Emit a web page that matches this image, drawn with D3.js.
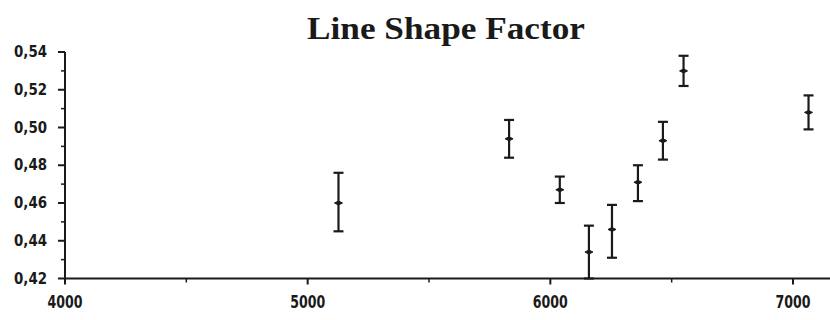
<!DOCTYPE html>
<html>
<head>
<meta charset="utf-8">
<script src="https://cdn.jsdelivr.net/npm/d3@7"></script>
<style>
  html, body { margin: 0; padding: 0; background: #fff; }
  svg { display: block; }
</style>
</head>
<body>
<svg id="chart" width="830" height="320"></svg>
<script>
// Wavelength (Å) of each measurement
const wavelengths = [5127, 5830, 6039, 6159, 6254, 6361, 6464, 6549, 7064];
// Line shape factor: central value and error-bar limits
const factorMid  = [0.460, 0.494, 0.467, 0.434, 0.446, 0.471, 0.493, 0.530, 0.508];
const factorLow  = [0.445, 0.484, 0.460, 0.420, 0.431, 0.461, 0.483, 0.522, 0.499];
const factorHigh = [0.476, 0.504, 0.474, 0.448, 0.459, 0.480, 0.503, 0.538, 0.517];
const xTicks = [4000, 5000, 6000, 7000];
const yTicks = [0.42, 0.44, 0.46, 0.48, 0.50, 0.52, 0.54];
const title = "Line Shape Factor";

const svg = d3.select("#chart");
const ink = "#1a1a1a";

const x = d3.scaleLinear().domain([4000, 7000]).range([65, 793]);
const y = d3.scaleLinear().domain([0.42, 0.54]).range([278.5, 52]);

// Title
svg.append("text")
  .attr("x", 446).attr("y", 39)
  .attr("text-anchor", "middle")
  .attr("font-family", "'Liberation Serif', 'Times New Roman', serif")
  .attr("font-weight", "bold")
  .attr("font-size", 32)
  .attr("textLength", 278)
  .attr("lengthAdjust", "spacingAndGlyphs")
  .attr("fill", ink)
  .text(title);

const fmt = d => d3.format(".2f")(d).replace(".", ",");
const tickFont = "'Liberation Sans Narrow', 'Arial Narrow', 'DejaVu Sans Condensed', sans-serif";

// X axis: line runs to the right edge
svg.append("line")
  .attr("x1", x(4000)).attr("x2", 830)
  .attr("y1", y(0.42)).attr("y2", y(0.42))
  .attr("stroke", ink).attr("stroke-width", 2);

const xMinor = d3.range(4500, 7100, 1000);
svg.append("g").selectAll("line").data(xMinor).join("line")
  .attr("x1", d => x(d)).attr("x2", d => x(d))
  .attr("y1", y(0.42)).attr("y2", y(0.42) + 4)
  .attr("stroke", ink).attr("stroke-width", 1.5);
svg.append("g").selectAll("line").data(xTicks).join("line")
  .attr("x1", d => x(d)).attr("x2", d => x(d))
  .attr("y1", y(0.42)).attr("y2", y(0.42) + 6)
  .attr("stroke", ink).attr("stroke-width", 2);
svg.append("g").selectAll("text").data(xTicks).join("text")
  .attr("x", d => x(d)).attr("y", 308)
  .attr("text-anchor", "middle")
  .attr("font-family", tickFont).attr("font-weight", "bold")
  .attr("font-size", 17).attr("fill", ink)
  .attr("textLength", 35).attr("lengthAdjust", "spacingAndGlyphs")
  .text(d => d);

// Y axis
svg.append("line")
  .attr("x1", x(4000)).attr("x2", x(4000))
  .attr("y1", y(0.54)).attr("y2", y(0.42))
  .attr("stroke", ink).attr("stroke-width", 2);

const yMinor = d3.range(0.43, 0.54, 0.02);
svg.append("g").selectAll("line").data(yMinor).join("line")
  .attr("x1", x(4000) - 4).attr("x2", x(4000))
  .attr("y1", d => y(d)).attr("y2", d => y(d))
  .attr("stroke", ink).attr("stroke-width", 1.5);
svg.append("g").selectAll("line").data(yTicks).join("line")
  .attr("x1", x(4000) - 7).attr("x2", x(4000))
  .attr("y1", d => y(d)).attr("y2", d => y(d))
  .attr("stroke", ink).attr("stroke-width", 2);
svg.append("g").selectAll("text").data(yTicks).join("text")
  .attr("x", 47).attr("y", d => y(d) + 5)
  .attr("text-anchor", "end")
  .attr("font-family", tickFont).attr("font-weight", "bold")
  .attr("font-size", 15).attr("fill", ink)
  .attr("textLength", 33).attr("lengthAdjust", "spacingAndGlyphs")
  .text(fmt);

// Error bars with caps and a centre mark
const pts = wavelengths.map((w, i) => ({ w, mid: factorMid[i], lo: factorLow[i], hi: factorHigh[i] }));
const g = svg.append("g").attr("stroke", ink);
const bars = g.selectAll("g").data(pts).join("g");
bars.append("line")
  .attr("x1", d => x(d.w)).attr("x2", d => x(d.w))
  .attr("y1", d => y(d.hi)).attr("y2", d => y(d.lo))
  .attr("stroke-width", 2.2);
bars.append("line")
  .attr("x1", d => x(d.w) - 5).attr("x2", d => x(d.w) + 5)
  .attr("y1", d => y(d.hi)).attr("y2", d => y(d.hi))
  .attr("stroke-width", 2.2);
bars.append("line")
  .attr("x1", d => x(d.w) - 5).attr("x2", d => x(d.w) + 5)
  .attr("y1", d => y(d.lo)).attr("y2", d => y(d.lo))
  .attr("stroke-width", 2.2);
bars.append("path")
  .attr("d", d => `M${x(d.w) - 4},${y(d.mid)}L${x(d.w)},${y(d.mid) - 2}L${x(d.w) + 4},${y(d.mid)}L${x(d.w)},${y(d.mid) + 2}Z`)
  .attr("fill", ink).attr("stroke-width", 1);
</script>
</body>
</html>
